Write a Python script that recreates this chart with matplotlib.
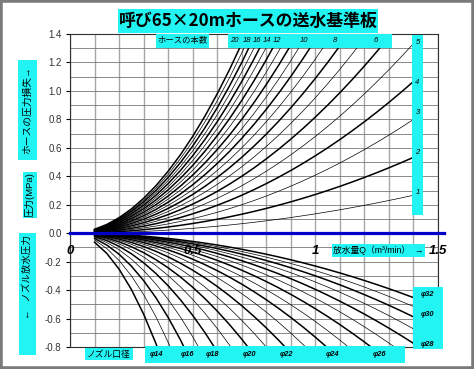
import matplotlib
matplotlib.use("Agg")
import matplotlib.pyplot as plt
from matplotlib.patches import Rectangle
import numpy as np

plt.rcParams["font.family"] = ["Liberation Sans", "Noto Sans CJK JP"]
plt.rcParams["axes.unicode_minus"] = False

# flow rate Q (m3/min) and Q^2
flow = [0.10, 0.15, 0.20, 0.25, 0.30, 0.35, 0.40, 0.45, 0.50, 0.55, 0.60, 0.65, 0.70,
        0.75, 0.80, 0.85, 0.90, 0.95, 1.00, 1.05, 1.10, 1.15, 1.20, 1.25, 1.30, 1.35, 1.40]
flow_sq = [0.0100, 0.0225, 0.0400, 0.0625, 0.0900, 0.1225, 0.1600, 0.2025, 0.2500,
           0.3025, 0.3600, 0.4225, 0.4900, 0.5625, 0.6400, 0.7225, 0.8100, 0.9025,
           1.0000, 1.1025, 1.2100, 1.3225, 1.4400, 1.5625, 1.6900, 1.8225, 1.9600]

# hose loss per 20m hose at Q = 1 m3/min (MPa)
hose_k = 0.136
hose_counts = [1, 2, 3, 4, 5, 6, 7, 8, 9, 10, 11, 12, 13, 14, 15, 16, 17, 18, 19, 20]

# nozzle pressure at Q = 1 m3/min (MPa) for each nozzle diameter (mm)
nozzle_d = [14, 15, 16, 17, 18, 19, 20, 21, 22, 23, 24, 25, 26, 27, 28, 29, 30, 31, 32]
nozzle_k = [6.32, 4.79, 3.70, 2.91, 2.31, 1.86, 1.52, 1.25, 1.04, 0.867, 0.731,
            0.621, 0.531, 0.457, 0.395, 0.343, 0.300, 0.263, 0.231]

y_ticks = [-0.8, -0.6, -0.4, -0.2, 0.0, 0.2, 0.4, 0.6, 0.8, 1.0, 1.2, 1.4]
x_labels = ["0", "0.5", "1", "1.5"]
x_label_pos = [0.0, 0.5, 1.0, 1.5]

top_hose_labels = ["20", "18", "16", "14", "12", "10", "8", "6"]
top_hose_px = [234, 247, 257, 267, 277, 304, 335, 376]
right_hose_labels = ["5", "4", "3", "2", "1"]
right_hose_py = [42, 83, 113, 153, 193]
bottom_d_labels = ["φ14", "φ16", "φ18", "φ20", "φ22", "φ24", "φ26"]
bottom_d_px = [157, 188, 213, 250, 287, 333, 380]
right_d_labels = ["φ32", "φ30", "φ28"]
right_d_py = [294, 314, 345]

CYAN = "#22f4f4"
W, H = 474, 369


def box(x0, y0, x1, y1):
    fig.add_artist(Rectangle((x0 / W, 1 - y1 / H), (x1 - x0) / W, (y1 - y0) / H,
                             transform=fig.transFigure, facecolor=CYAN,
                             edgecolor="none", zorder=5))


def label(px, py, s, **kw):
    fig.text(px / W, 1 - py / H, s, ha="center", va="center", zorder=6, **kw)


fig = plt.figure(figsize=(W / 100, H / 100), dpi=100)
ax = fig.add_axes([70 / W, 22 / H, 368 / W, 313 / H])

# hose pressure loss curves (upper half)
for n in hose_counts:
    y = [hose_k * n * v for v in flow_sq]
    bold = n % 2 == 0
    ax.plot(flow, y, color="black", lw=1.1 if bold else 0.5, zorder=3)

# nozzle pressure curves (lower half)
for d, k in zip(nozzle_d, nozzle_k):
    y = [-k * v for v in flow_sq]
    bold = d % 2 == 0
    ax.plot(flow, y, color="black", lw=1.1 if bold else 0.5, zorder=3)

ax.axhline(0, xmin=0, xmax=1.015, color="#0000c8", lw=2.3, zorder=4, clip_on=False)

ax.set_xlim(0, 1.5)
ax.set_ylim(-0.8, 1.4)
ax.set_xticks(np.arange(0, 1.501, 0.1))
ax.set_xticklabels([])
ax.set_yticks(np.arange(-0.8, 1.401, 0.1), minor=True)
ax.set_yticks(y_ticks)
ax.set_yticklabels([f"{v:.1f}" for v in y_ticks], fontsize=7, color="#333333")
ax.tick_params(axis="x", length=0)
ax.tick_params(axis="y", which="major", length=3, width=0.8, direction="out", pad=3)
ax.tick_params(axis="y", which="minor", length=0)
ax.xaxis.grid(True, color="#a8a8a8", lw=1.0, zorder=1)
ax.yaxis.grid(True, which="both", color="#777777", lw=0.6, zorder=1)
ax.set_axisbelow(True)
for s in ax.spines.values():
    s.set_color("#303030")
    s.set_linewidth(0.8)

for xp, t in zip(x_label_pos, x_labels):
    ax.text(xp, -0.125, t, ha="center", va="center", fontsize=9.5,
            fontweight="bold", fontstyle="italic", clip_on=False, zorder=6)

# figure frame
fig.add_artist(Rectangle((0, 0), 1, 1, transform=fig.transFigure, fill=False,
                         edgecolor="#7a7a7a", lw=4, zorder=10))

# title
box(118, 9, 378, 33)
label(248, 21, "呼び65×20mホースの送水基準板", fontsize=12.2, fontweight="bold",
      family=["Noto Sans CJK JP"])

# hose count labels
box(156, 34, 209, 48)
label(182.5, 41, "ホースの本数", fontsize=6)
box(228, 34, 392, 48)
for px, t in zip(top_hose_px, top_hose_labels):
    label(px, 41, t, fontsize=5.5, fontstyle="italic")
box(412, 35, 423, 215)
for py, t in zip(right_hose_py, right_hose_labels):
    label(417.5, py, t, fontsize=5.5, fontstyle="italic")

# nozzle diameter labels
box(85, 348, 133, 360)
label(109, 354, "ノズル口径", fontsize=6.3)
box(145, 346, 405, 363)
for px, t in zip(bottom_d_px, bottom_d_labels):
    label(px, 354, t, fontsize=5.3, fontstyle="italic", fontweight="bold")
box(413, 287, 443, 349)
for py, t in zip(right_d_py, right_d_labels):
    label(428, py, t, fontsize=5.3, fontstyle="italic", fontweight="bold")

# flow axis label
box(332, 244, 425, 257)
label(378.5, 250.5, "放水量Q（m³/min）  →", fontsize=6.3)

# left vertical labels
box(18, 60, 37, 160)
label(27.5, 110, "ホースの圧力損失→", fontsize=7, rotation=90)
box(23, 172, 37, 218)
label(30, 195, "圧力(MPa)", fontsize=6.8, rotation=90)
box(19, 233, 36, 355)
label(27.5, 277, "←   ノズル放水圧力", fontsize=6.8, rotation=90)

fig.savefig("out.png", dpi=100)
